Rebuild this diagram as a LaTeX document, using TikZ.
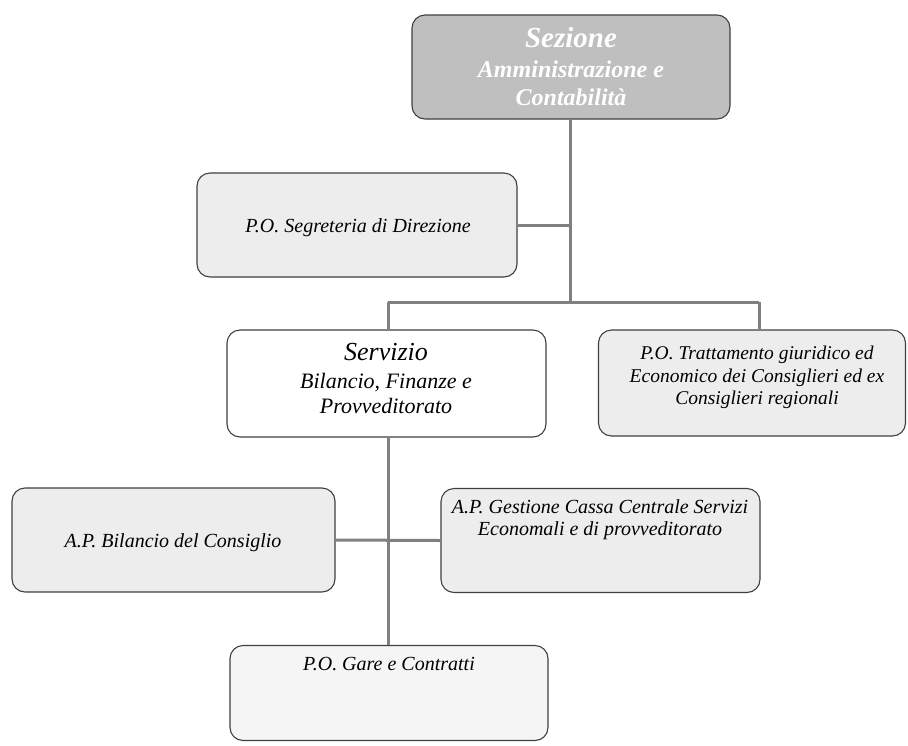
\documentclass[tikz,border=0pt]{standalone}
\usepackage{fontspec}
\setmainfont{Liberation Serif}
\begin{document}
\begin{tikzpicture}[x=1pt,y=-1pt,
  box/.style={draw=black!75, line width=1.1pt, rounded corners=13pt, inner sep=0pt},
  lightbox/.style={box, fill=black!7},
  ln/.style={anchor=base, inner sep=0pt, text=black, font=\itshape\fontsize{20}{22}\selectfont},
  wln/.style={anchor=base, inner sep=0pt, text=white, font=\bfseries\itshape\fontsize{24}{26}\selectfont},
  conn/.style={draw=black!50, line width=3pt}]
\useasboundingbox (0,0) rectangle (908,745);
% boxes
\node[box, fill=black!25, minimum width=318pt, minimum height=104pt] (sez) at (571,67) {};
\node[lightbox, minimum width=320pt, minimum height=104pt] (seg) at (357,225) {};
\node[box, fill=white, minimum width=319pt, minimum height=107pt] (serv) at (386.5,383.5) {};
\node[lightbox, minimum width=307pt, minimum height=106pt] (tratt) at (752,383) {};
\node[lightbox, minimum width=323pt, minimum height=104pt] (apbil) at (173.5,540) {};
\node[lightbox, minimum width=319pt, minimum height=104pt] (apges) at (600.5,540.5) {};
\node[box, fill=black!4, minimum width=318pt, minimum height=95pt] (gare) at (389,693) {};
% texts
\node[wln, font=\bfseries\itshape\fontsize{29}{30}\selectfont] (sez1) at (571,47) {Sezione};
\node[wln] (sez2) at (571,77) {Amministrazione e};
\node[wln] (sez3) at (571,105) {Contabilità};
\node[ln] (segt) at (358,232) {P.O. Segreteria di Direzione};
\node[ln, font=\itshape\fontsize{26}{28}\selectfont] (serv1) at (386,360) {Servizio};
\node[ln, font=\itshape\fontsize{22}{24}\selectfont] (serv2) at (386,388) {Bilancio, Finanze e};
\node[ln, font=\itshape\fontsize{22}{24}\selectfont] (serv3) at (386,413) {Provveditorato};
\node[ln, font=\itshape\fontsize{19.5}{22}\selectfont] (tratt1) at (757,359) {P.O. Trattamento giuridico ed};
\node[ln, font=\itshape\fontsize{19.5}{22}\selectfont] (tratt2) at (757,382) {Economico dei Consiglieri ed ex};
\node[ln, font=\itshape\fontsize{19.5}{22}\selectfont] (tratt3) at (757,404) {Consiglieri regionali};
\node[ln] (apbilt) at (173,547) {A.P. Bilancio del Consiglio};
\node[ln] (apges1) at (600,513) {A.P. Gestione Cassa Centrale Servizi};
\node[ln] (apges2) at (600,535) {Economali e di provveditorato};
\node[ln] (garet) at (389,670) {P.O. Gare e Contratti};
% connectors
\coordinate (busL) at (388,302);
\coordinate (busR) at (759,302);
\coordinate (busM) at (570,302);
\draw[conn] (sez.south -| busM) -- (busM);
\draw[conn] (seg.east) -- (seg.east -| busM);
\draw[conn] (busL) -- (busR);
\draw[conn] (busL) -- (busL |- serv.north);
\draw[conn] (busR) -- (busR |- tratt.north);
\draw[conn] (serv.south -| busL) -- (gare.north -| busL);
\draw[conn] (apbil.east) -- (apges.west);
\end{tikzpicture}
\end{document}
